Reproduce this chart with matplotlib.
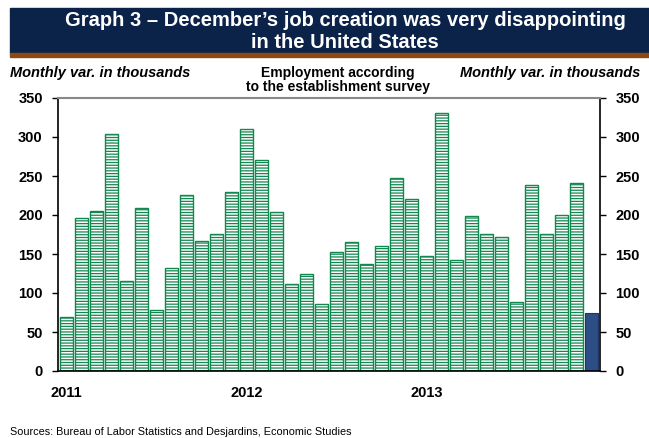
import matplotlib.pyplot as plt
import matplotlib.patches as mpatches
import numpy as np

plt.rcParams['font.family'] = ['Liberation Sans', 'DejaVu Sans']
plt.rcParams['hatch.linewidth'] = 0.9

# monthly payroll changes, Jan 2011 - Dec 2013 (thousands)
months = np.arange(36)
jobs = [69, 196, 205, 304, 115, 209, 78, 132, 225, 167, 175, 230,
        310, 271, 204, 111, 124, 86, 152, 165, 137, 160, 247, 220,
        148, 331, 142, 199, 176, 172, 89, 238, 175, 200, 241, 74]
year_labels = ['2011', '2012', '2013']
year_pos = [0, 12, 24]

green = '#12874f'
navy = '#0b2249'

fig = plt.figure(figsize=(6.49, 4.38), dpi=100)

# title banner
fig.patches.append(mpatches.Rectangle((10/649, 1 - 53/438), 639/649, 45/438,
                                      transform=fig.transFigure, color=navy, zorder=0))
fig.patches.append(mpatches.Rectangle((10/649, 1 - 57/438), 639/649, 4/438,
                                      transform=fig.transFigure, color='#8a4a12', zorder=0))
fig.text(345/649, 1 - 21/438, 'Graph 3 \u2013 December\u2019s job creation was very disappointing',
         color='white', fontsize=14.5, fontweight='bold', ha='center', va='center')
fig.text(345/649, 1 - 42/438, 'in the United States',
         color='white', fontsize=14.5, fontweight='bold', ha='center', va='center')

ax = fig.add_axes([58/649, 67/438, 542/649, 273/438])

ax.bar(months[:-1], jobs[:-1], width=0.9, color='white', edgecolor=green,
       hatch='------', linewidth=1.0)
ax.bar(months[-1], jobs[-1], width=0.9, color='#2c4d86', edgecolor='#1d3563', linewidth=0.8)

ax.set_xlim(-0.55, 35.55)
ax.set_ylim(0, 350)
ax.set_yticks(np.arange(0, 351, 50))
ax.tick_params(axis='y', which='both', length=4, width=1, labelsize=10.5,
               left=True, right=True, labelleft=True, labelright=True, pad=7)
for lab in ax.get_yticklabels():
    lab.set_fontweight('bold')
ax.set_xticks(year_pos)
ax.set_xticklabels(year_labels, fontweight='bold', fontsize=10.5)
ax.tick_params(axis='x', length=0, pad=11)

for s in ['left', 'right', 'bottom']:
    ax.spines[s].set_color('black')
    ax.spines[s].set_linewidth(1.2)
ax.spines['top'].set_color('#888888')
ax.spines['top'].set_linewidth(1.5)

fig.text(10/649, 1 - 73/438, 'Monthly var. in thousands', fontsize=10.5, fontweight='bold',
         fontstyle='italic', ha='left', va='center')
fig.text(640/649, 1 - 73/438, 'Monthly var. in thousands', fontsize=10.5, fontweight='bold',
         fontstyle='italic', ha='right', va='center')
fig.text(338/649, 1 - 80.5/438, 'Employment according\nto the establishment survey', fontsize=10,
         fontweight='bold', ha='center', va='center', linespacing=1.0)
fig.text(10/649, 1 - 432/438, 'Sources: Bureau of Labor Statistics and Desjardins, Economic Studies',
         fontsize=7.8, ha='left', va='center')

fig.savefig('out.png', dpi=100)
